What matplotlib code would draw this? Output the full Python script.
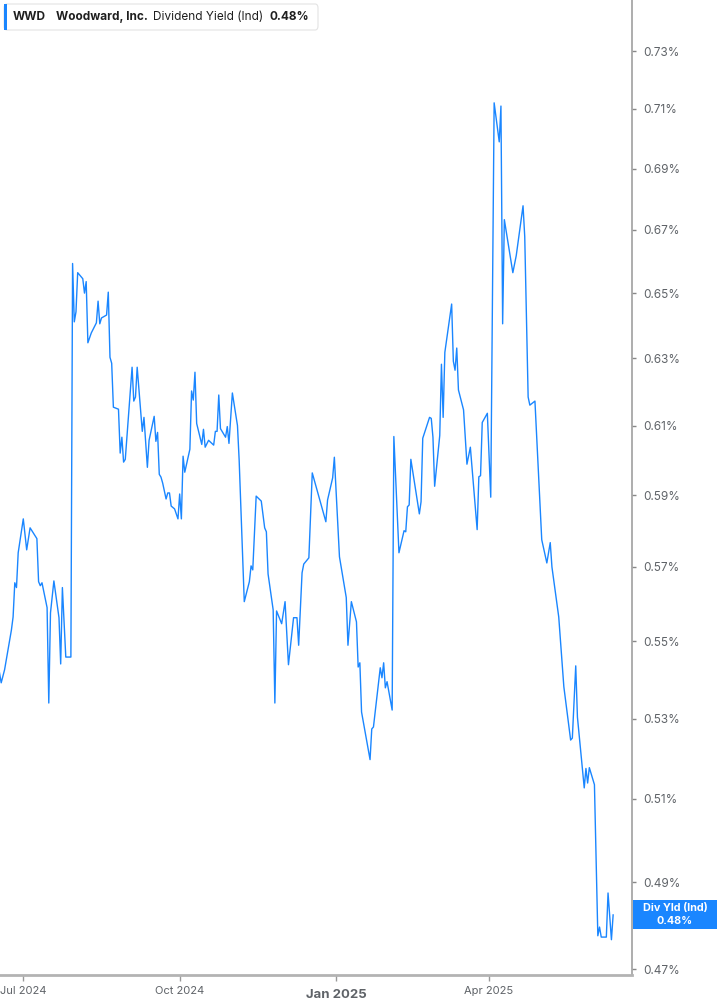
import matplotlib
matplotlib.use("Agg")
import matplotlib.pyplot as plt
import matplotlib.dates as mdates
import matplotlib.ticker as mticker
from matplotlib.patches import Rectangle, FancyBboxPatch
import pandas as pd

plt.rcParams['font.family'] = ['Inter', 'DejaVu Sans']

dates = [
    "2024-06-17", "2024-06-18", "2024-06-20", "2024-06-22", "2024-06-24", "2024-06-25", "2024-06-26", "2024-06-27",
    "2024-06-28", "2024-07-01", "2024-07-03", "2024-07-05", "2024-07-09", "2024-07-10", "2024-07-11", "2024-07-12",
    "2024-07-15", "2024-07-16", "2024-07-17", "2024-07-19", "2024-07-22", "2024-07-23", "2024-07-24", "2024-07-26",
    "2024-07-29", "2024-07-30", "2024-07-31", "2024-08-01", "2024-08-02", "2024-08-05", "2024-08-06", "2024-08-07",
    "2024-08-08", "2024-08-10", "2024-08-13", "2024-08-14", "2024-08-15", "2024-08-16", "2024-08-19", "2024-08-20",
    "2024-08-21", "2024-08-22", "2024-08-23", "2024-08-26", "2024-08-27", "2024-08-28", "2024-08-29", "2024-08-30",
    "2024-09-03", "2024-09-04", "2024-09-05", "2024-09-06", "2024-09-09", "2024-09-10", "2024-09-12", "2024-09-13",
    "2024-09-16", "2024-09-17", "2024-09-18", "2024-09-19", "2024-09-20", "2024-09-21", "2024-09-23", "2024-09-24",
    "2024-09-25", "2024-09-26", "2024-09-28", "2024-09-30", "2024-10-01", "2024-10-02", "2024-10-03", "2024-10-04",
    "2024-10-07", "2024-10-08", "2024-10-09", "2024-10-10", "2024-10-11", "2024-10-14", "2024-10-15", "2024-10-16",
    "2024-10-18", "2024-10-21", "2024-10-22", "2024-10-23", "2024-10-24", "2024-10-25", "2024-10-28", "2024-10-29",
    "2024-10-30", "2024-11-01", "2024-11-04", "2024-11-05", "2024-11-08", "2024-11-11", "2024-11-12", "2024-11-13",
    "2024-11-15", "2024-11-18", "2024-11-20", "2024-11-21", "2024-11-22", "2024-11-25", "2024-11-26", "2024-11-27",
    "2024-11-30", "2024-12-02", "2024-12-04", "2024-12-07", "2024-12-09", "2024-12-10", "2024-12-12", "2024-12-13",
    "2024-12-16", "2024-12-18", "2024-12-26", "2024-12-27", "2024-12-30", "2024-12-31", "2025-01-03", "2025-01-07",
    "2025-01-08", "2025-01-10", "2025-01-13", "2025-01-14", "2025-01-15", "2025-01-16", "2025-01-21", "2025-01-22",
    "2025-01-23", "2025-01-27", "2025-01-28", "2025-01-29", "2025-01-30", "2025-01-31", "2025-02-03", "2025-02-04",
    "2025-02-07", "2025-02-10", "2025-02-11", "2025-02-12", "2025-02-13", "2025-02-14", "2025-02-19", "2025-02-20",
    "2025-02-21", "2025-02-25", "2025-02-26", "2025-02-27", "2025-02-28", "2025-03-03", "2025-03-04", "2025-03-05",
    "2025-03-06", "2025-03-10", "2025-03-11", "2025-03-12", "2025-03-13", "2025-03-14", "2025-03-17", "2025-03-19",
    "2025-03-21", "2025-03-25", "2025-03-26", "2025-03-27", "2025-03-28", "2025-03-31", "2025-04-02", "2025-04-04",
    "2025-04-07", "2025-04-08", "2025-04-09", "2025-04-10", "2025-04-15", "2025-04-17", "2025-04-21", "2025-04-22",
    "2025-04-24", "2025-04-25", "2025-04-28", "2025-05-02", "2025-05-05", "2025-05-07", "2025-05-08", "2025-05-12",
    "2025-05-15", "2025-05-19", "2025-05-20", "2025-05-22", "2025-05-23", "2025-05-27", "2025-05-28", "2025-05-29",
    "2025-05-30", "2025-06-02", "2025-06-04", "2025-06-05", "2025-06-06", "2025-06-09", "2025-06-10", "2025-06-12",
    "2025-06-13",
]

div_yield = [
    0.5418, 0.5392, 0.5426, 0.5477, 0.5530, 0.5565, 0.5657, 0.5644,
    0.5739, 0.5833, 0.5747, 0.5808, 0.5778, 0.5660, 0.5649, 0.5657,
    0.5590, 0.5340, 0.5576, 0.5662, 0.5563, 0.5441, 0.5644, 0.5459,
    0.5459, 0.6593, 0.6411, 0.6442, 0.6564, 0.6545, 0.6500, 0.6536,
    0.6347, 0.6377, 0.6408, 0.6475, 0.6405, 0.6423, 0.6432, 0.6503,
    0.6303, 0.6285, 0.6154, 0.6148, 0.6020, 0.6066, 0.5994, 0.6002,
    0.6273, 0.6172, 0.6184, 0.6273, 0.6083, 0.6124, 0.5979, 0.6057,
    0.6127, 0.6054, 0.6080, 0.5959, 0.5951, 0.5934, 0.5889, 0.5906,
    0.5906, 0.5869, 0.5861, 0.5833, 0.5903, 0.5833, 0.6011, 0.5965,
    0.6031, 0.6202, 0.6175, 0.6258, 0.6106, 0.6045, 0.6089, 0.6037,
    0.6057, 0.6043, 0.6083, 0.6083, 0.6190, 0.6091, 0.6066, 0.6097,
    0.6048, 0.6196, 0.6100, 0.5999, 0.5606, 0.5660, 0.5703, 0.5692,
    0.5897, 0.5883, 0.5808, 0.5797, 0.5681, 0.5584, 0.5340, 0.5581,
    0.5547, 0.5606, 0.5439, 0.5563, 0.5563, 0.5490, 0.5684, 0.5708,
    0.5725, 0.5963, 0.5825, 0.5886, 0.5949, 0.6008, 0.5728, 0.5617,
    0.5490, 0.5606, 0.5552, 0.5433, 0.5444, 0.5317, 0.5197, 0.5274,
    0.5279, 0.5431, 0.5405, 0.5444, 0.5379, 0.5395, 0.5322, 0.6068,
    0.5739, 0.5800, 0.5797, 0.5867, 0.5872, 0.6002, 0.5847, 0.5881,
    0.6063, 0.6124, 0.6121, 0.6066, 0.5925, 0.6071, 0.6282, 0.6124,
    0.6318, 0.6466, 0.6291, 0.6264, 0.6331, 0.6205, 0.6146, 0.5988,
    0.6037, 0.5803, 0.5952, 0.5955, 0.6109, 0.6136, 0.5894, 0.7121,
    0.6989, 0.7110, 0.6405, 0.6733, 0.6564, 0.6618, 0.6778, 0.6678,
    0.6184, 0.6160, 0.6172, 0.5775, 0.5711, 0.5767, 0.5700, 0.5565,
    0.5382, 0.5246, 0.5251, 0.5436, 0.5304, 0.5127, 0.5175, 0.5139,
    0.5177, 0.5135, 0.4776, 0.4796, 0.4773, 0.4773, 0.4875, 0.4767,
    0.4824,
]

y_ticks = [0.47, 0.49, 0.51, 0.53, 0.55, 0.57, 0.59, 0.61, 0.63, 0.65, 0.67, 0.69, 0.71, 0.73]
x_tick_dates = ["2024-07-01", "2024-10-01", "2025-01-01", "2025-04-01"]
x_tick_labels = ["Jul 2024", "Oct 2024", "Jan 2025", "Apr 2025"]

ticker_sym = "WWD"
company = "Woodward, Inc."
metric = "Dividend Yield (Ind)"
last_label = "0.48%"

W, H = 717, 1005
LINE = "#1a86ff"
GRAY_TXT = "#5f6368"
AXIS = "#b3b3b3"

fig = plt.figure(figsize=(W / 100, H / 100), dpi=100)
fig.patch.set_facecolor("white")

def fx(px):
    return px / W

def fy(py):
    return 1 - py / H

ax = fig.add_axes([0, fy(975), fx(632), fy(0) - fy(975)])
x = pd.to_datetime(dates)
ax.plot(x, div_yield, color=LINE, lw=1.0)

ax.set_yscale("log")
ax.set_ylim(0.46870, 0.7481)
x0 = mdates.date2num(pd.Timestamp("2024-07-01"))
ax.set_xlim(x0 - 13.7, x0 + 358.1)

ax.yaxis.tick_right()
ax.yaxis.set_major_locator(mticker.FixedLocator(y_ticks))
ax.yaxis.set_minor_locator(mticker.NullLocator())
ax.yaxis.set_major_formatter(mticker.FuncFormatter(lambda v, p: f"{v:.2f}%"))
ax.tick_params(axis="y", which="major", length=3, width=1, color="#888888",
               labelcolor=GRAY_TXT, labelsize=8.5, pad=5)

ax.set_xticks(pd.to_datetime(x_tick_dates))
ax.set_xticklabels(x_tick_labels)
ax.tick_params(axis="x", which="major", length=4, width=1, color="#999999",
               labelcolor=GRAY_TXT, labelsize=8, pad=4)
for lbl in ax.get_xticklabels():
    if lbl.get_text().startswith("Jan"):
        lbl.set_fontweight("bold")
        lbl.set_fontsize(9.5)
        lbl.set_y(-0.003)

for s in ["left", "top"]:
    ax.spines[s].set_visible(False)
ax.spines["right"].set_color("#a0a0a0")
ax.spines["right"].set_linewidth(1.2)
ax.spines["bottom"].set_color(AXIS)
ax.spines["bottom"].set_linewidth(2.0)

# Header legend box
box = FancyBboxPatch((fx(4), fy(30)), fx(314), fy(4) - fy(30),
                     boxstyle="round,pad=0,rounding_size=0.004",
                     transform=fig.transFigure, facecolor="white",
                     edgecolor="#e3e3e3", lw=0.8, zorder=5)
fig.patches.append(box)
bar = Rectangle((fx(4), fy(30)), fx(3), fy(4) - fy(30), transform=fig.transFigure,
                facecolor=LINE, edgecolor="none", zorder=6)
fig.patches.append(bar)
hy = fy(17)
fig.text(fx(13), hy, ticker_sym, fontsize=8.5, fontweight="bold", color="#1f1f1f", va="center", zorder=7)
fig.text(fx(56), hy, company, fontsize=8.5, fontweight="bold", color="#1f1f1f", va="center", zorder=7)
fig.text(fx(153), hy, metric, fontsize=8.5, color="#1f1f1f", va="center", zorder=7)
fig.text(fx(269), hy, last_label, fontsize=8.5, fontweight="bold", color="#1f1f1f", va="center", zorder=7)

# Last value label on the right axis
fig.canvas.draw()
last_disp = ax.transData.transform((mdates.date2num(x[-1]), div_yield[-1]))
cy = last_disp[1] / fig.dpi / (H / 100)
hh = 29 / H
tag = Rectangle((fx(633), cy - hh / 2), fx(84), hh, transform=fig.transFigure,
                facecolor="#1a86ff", edgecolor="none", zorder=6)
fig.patches.append(tag)
fig.text(fx(675), cy + 6.5 / H, "Div Yld (Ind)", fontsize=7.8, fontweight="bold",
         color="white", ha="center", va="center", zorder=7)
fig.text(fx(675), cy - 6.5 / H, last_label, fontsize=7.8, fontweight="bold",
         color="white", ha="center", va="center", zorder=7)

fig.savefig("out.png", dpi=100, facecolor="white")
